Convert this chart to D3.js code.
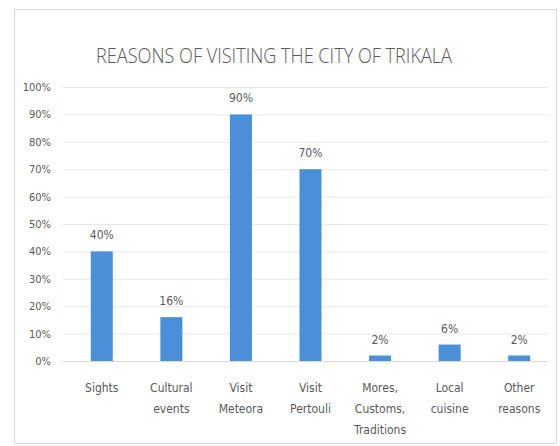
<!DOCTYPE html>
<html>
<head>
<meta charset="utf-8">
<script src="https://cdnjs.cloudflare.com/ajax/libs/d3/7.8.5/d3.min.js"></script>
<style>
  body { margin: 0; background: #fff; }
  text { font-family: "DejaVu Sans Condensed", "Liberation Sans Narrow", "Open Sans", sans-serif; fill: #595959; }
</style>
</head>
<body>
<div id="chart"></div>
<script>
// chart values
var categories = ["Sights", "Cultural events", "Visit Meteora", "Visit Pertouli", "Mores, Customs, Traditions", "Local cuisine", "Other reasons"];
var categoryLines = [["Sights"], ["Cultural", "events"], ["Visit", "Meteora"], ["Visit", "Pertouli"], ["Mores,", "Customs,", "Traditions"], ["Local", "cuisine"], ["Other", "reasons"]];
var values = [0.40, 0.16, 0.90, 0.70, 0.02, 0.06, 0.02];
var yTicks = [0, 0.1, 0.2, 0.3, 0.4, 0.5, 0.6, 0.7, 0.8, 0.9, 1.0];
var title = "REASONS OF VISITING THE CITY OF TRIKALA";

var width = 560, height = 446;

var svg = d3.select('#chart')
      .append('svg')
      .attr('width', width)
      .attr('height', height);

// outer frame
svg.append('rect')
      .attr('x', 14.5).attr('y', 9.5)
      .attr('width', 542).attr('height', 434)
      .attr('fill', '#fff')
      .attr('stroke', '#d9d9d9');

// title
svg.append('text')
      .attr('x', 274).attr('y', 63)
      .attr('text-anchor', 'middle')
      .attr('textLength', 356)
      .attr('lengthAdjust', 'spacingAndGlyphs')
      .style('font-family', '"Open Sans", "DejaVu Sans Condensed", sans-serif')
      .style('font-weight', 300)
      .style('font-size', '21px')
      .text(title);

var x = d3.scaleBand().domain(categories).range([67, 554]);
var y = d3.scaleLinear().domain([0, 1]).range([361, 87]);

// gridlines + tick labels from axis
var yAxis = svg.append('g')
      .attr('transform', 'translate(63,0)')
      .call(d3.axisLeft(y).tickValues(yTicks).tickFormat(d3.format('.0%')).tickSize(-485).tickPadding(12));
yAxis.select('.domain').remove();
yAxis.selectAll('.tick line').attr('stroke', function (d) { return d === 0 ? '#d9d9d9' : '#e8e8e8'; });
yAxis.selectAll('.tick text')
      .attr('fill', '#595959')
      .style('font-size', '11px');

// bars
var barW = 22;
svg.selectAll('rect.bar')
      .data(values)
      .enter().append('rect')
      .attr('class', 'bar')
      .attr('x', function (d, i) { return x(categories[i]) + x.bandwidth() / 2 - barW / 2; })
      .attr('y', function (d) { return y(d); })
      .attr('width', barW)
      .attr('height', function (d) { return y(0) - y(d); })
      .attr('fill', '#4a90d9');

// data labels
svg.selectAll('text.val')
      .data(values)
      .enter().append('text')
      .attr('class', 'val')
      .attr('x', function (d, i) { return x(categories[i]) + x.bandwidth() / 2; })
      .attr('y', function (d) { return y(d) - 12; })
      .attr('text-anchor', 'middle')
      .style('font-size', '12px')
      .text(function (d) { return d3.format('.0%')(d); });

// category labels
var cat = svg.selectAll('text.cat')
      .data(categoryLines)
      .enter().append('text')
      .attr('class', 'cat')
      .attr('text-anchor', 'middle')
      .style('font-size', '12px');
cat.each(function (lines, i) {
      var t = d3.select(this);
      lines.forEach(function (l, j) {
            t.append('tspan')
                  .attr('x', x(categories[i]) + x.bandwidth() / 2)
                  .attr('y', 392 + j * 21)
                  .text(l);
      });
});
</script>
</body>
</html>
